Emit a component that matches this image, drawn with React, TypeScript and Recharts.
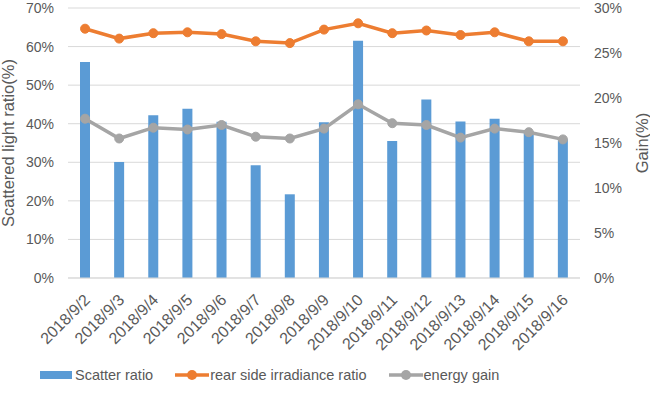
import React from 'react';
import { ComposedChart, Bar, Line, XAxis, YAxis, CartesianGrid, Legend } from 'recharts';

const dates = [
  '2018/9/2', '2018/9/3', '2018/9/4', '2018/9/5', '2018/9/6', '2018/9/7', '2018/9/8', '2018/9/9',
  '2018/9/10', '2018/9/11', '2018/9/12', '2018/9/13', '2018/9/14', '2018/9/15', '2018/9/16',
];
const scatterRatio = [56.0, 30.1, 42.2, 43.9, 40.5, 29.2, 21.7, 40.4, 61.5, 35.5, 46.3, 40.6, 41.3, 38.0, 36.0];
const rearIrradiance = [27.7, 26.6, 27.2, 27.3, 27.1, 26.3, 26.1, 27.6, 28.3, 27.2, 27.5, 27.0, 27.3, 26.3, 26.3];
const energyGain = [17.7, 15.5, 16.7, 16.5, 17.0, 15.7, 15.5, 16.6, 19.3, 17.2, 17.0, 15.6, 16.6, 16.2, 15.4];
const leftTicks = [0, 10, 20, 30, 40, 50, 60, 70];
const rightTicks = [0, 5, 10, 15, 20, 25, 30];
const boundaryTicks = Array.from({ length: dates.length + 1 }, (_, i) => i);

const data = dates.map((d, i) => ({
  date: d,
  scatter: scatterRatio[i],
  rear: rearIrradiance[i],
  gain: energyGain[i],
}));

const FONT = '"Liberation Sans", Arial, sans-serif';
const TEXT = '#595959';
const BLUE = '#5B9BD5';
const ORANGE = '#ED7D31';
const GRAY = '#A5A5A5';

const DateTick = (props: any) => {
  const { x, y, payload } = props;
  const ax = x + 6;
  const ay = y + 15;
  return (
    <text
      x={ax}
      y={ay}
      transform={`rotate(-45, ${ax}, ${ay})`}
      textAnchor="end"
      fontSize={16}
      fill={TEXT}
      fontFamily={FONT}
    >
      {payload.value}
    </text>
  );
};

const legendItems = [
  { label: 'Scatter ratio', color: BLUE, kind: 'bar' },
  { label: 'rear side irradiance ratio', color: ORANGE, kind: 'line' },
  { label: 'energy gain', color: GRAY, kind: 'line' },
];

const LegendContent = () => (
  <div style={{ display: 'flex', justifyContent: 'flex-start', paddingLeft: 40, gap: 22, fontFamily: FONT, fontSize: 14.5, color: TEXT }}>
    {legendItems.map((it) => (
      <div key={it.label} style={{ display: 'flex', alignItems: 'center' }}>
        <svg width={34} height={12} style={{ marginRight: 1 }}>
          {it.kind === 'bar' ? (
            <rect x={0} y={2} width={32} height={8} fill={it.color} />
          ) : (
            <g>
              <line x1={0} y1={6} x2={34} y2={6} stroke={it.color} strokeWidth={3.5} />
              <circle cx={17} cy={6} r={5} fill={it.color} />
            </g>
          )}
        </svg>
        <span>{it.label}</span>
      </div>
    ))}
  </div>
);

export default function App() {
  return (
    <div style={{ position: 'absolute', left: 0, top: 0, width: 650, height: 396, background: '#fff' }}>
      <ComposedChart
        width={650}
        height={396}
        data={data}
        margin={{ top: 8, right: 0, left: 0, bottom: 2 }}
      >
        <CartesianGrid vertical={false} stroke="#D9D9D9" yAxisId="left" />
        <XAxis
          dataKey="date"
          xAxisId="cat"
          interval={0}
          height={82}
          tickLine={false}
          axisLine={{ stroke: '#D9D9D9' }}
          tick={<DateTick />}
        />
        <XAxis
          xAxisId="bounds"
          type="number"
          domain={[0, dates.length]}
          ticks={boundaryTicks}
          height={0}
          tick={false}
          axisLine={false}
          tickLine={{ stroke: '#D9D9D9' }}
          tickSize={5}
        />
        <YAxis
          yAxisId="left"
          width={68}
          domain={[0, 70]}
          ticks={leftTicks}
          tickFormatter={(v: number) => `${v}%`}
          axisLine={false}
          tickLine={false}
          tick={{ fill: TEXT, fontSize: 14, fontFamily: FONT, dx: -6 }}
          label={{
            value: 'Scattered light ratio(%)',
            angle: -90,
            position: 'insideLeft',
            offset: 8,
            style: { textAnchor: 'middle', fill: TEXT, fontSize: 16.5, fontFamily: FONT },
          }}
        />
        <YAxis
          yAxisId="right"
          orientation="right"
          width={70}
          domain={[0, 30]}
          ticks={rightTicks}
          tickFormatter={(v: number) => `${v}%`}
          axisLine={false}
          tickLine={false}
          tick={{ fill: TEXT, fontSize: 14, fontFamily: FONT, dx: 6 }}
          label={{
            value: 'Gain(%)',
            angle: -90,
            position: 'insideRight',
            offset: 8,
            style: { textAnchor: 'middle', fill: TEXT, fontSize: 16.5, fontFamily: FONT },
          }}
        />
        <Bar
          dataKey="scatter"
          xAxisId="cat"
          yAxisId="left"
          fill={BLUE}
          barSize={10}
          isAnimationActive={false}
          name="Scatter ratio"
        />
        <Line
          dataKey="rear"
          xAxisId="cat"
          yAxisId="right"
          stroke={ORANGE}
          strokeWidth={3.5}
          dot={{ r: 4.5, fill: ORANGE, stroke: ORANGE, strokeWidth: 1 }}
          isAnimationActive={false}
          name="rear side irradiance ratio"
        />
        <Line
          dataKey="gain"
          xAxisId="cat"
          yAxisId="right"
          stroke={GRAY}
          strokeWidth={3.5}
          dot={{ r: 4.5, fill: GRAY, stroke: GRAY, strokeWidth: 1 }}
          isAnimationActive={false}
          name="energy gain"
        />
        <Legend
          verticalAlign="bottom"
          align="left"
          height={34}
          wrapperStyle={{ left: 0, width: 650, top: 367 }}
          content={<LegendContent />}
        />
      </ComposedChart>
    </div>
  );
}
